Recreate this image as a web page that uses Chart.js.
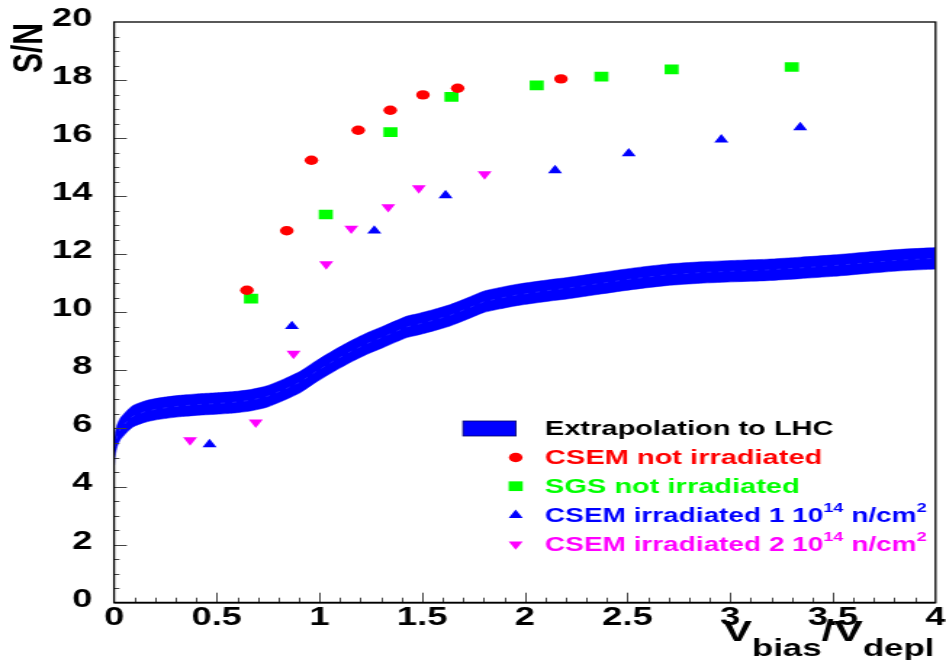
<!DOCTYPE html>
<html><head><meta charset="utf-8">
<script src="https://cdn.jsdelivr.net/npm/chart.js@4/dist/chart.umd.min.js"></script>
<style>
html,body{margin:0;padding:0;background:#fff;overflow:hidden;}
#wrap{width:652px;height:660px;transform:scaleX(1.45092);transform-origin:0 0;}
canvas{display:block;}
</style></head><body>
<div id="wrap"><canvas id="c" width="652" height="660"></canvas></div>
<script>
// ---- data ----
const xTickLabels = ["0","0.5","1","1.5","2","2.5","3","3.5","4"];
const yTickLabels = ["0","2","4","6","8","10","12","14","16","18","20"];

const csemNotIrrX = [0.647,0.841,0.961,1.189,1.345,1.504,1.673,2.176];
const csemNotIrrY = [10.76,12.81,15.24,16.27,16.96,17.49,17.72,18.04];

const sgsNotIrrX = [0.667,1.031,1.346,1.643,2.058,2.373,2.715,3.300];
const sgsNotIrrY = [10.47,13.37,16.21,17.42,17.82,18.12,18.37,18.45];

const csemIrr1X = [0.465,0.866,1.267,1.614,2.147,2.506,2.957,3.341];
const csemIrr1Y = [5.45,9.52,12.81,14.03,14.89,15.47,15.95,16.37];

const csemIrr2X = [0.370,0.690,0.874,1.033,1.155,1.335,1.484,1.804];
const csemIrr2Y = [5.60,6.21,8.58,11.66,12.89,13.63,14.28,14.76];

const bandX = [0,0.005,0.015,0.03,0.06,0.094,0.15,0.2,0.257,0.33,0.419,0.5,0.581,0.663,0.744,0.825,0.906,0.988,1.07,1.15,1.23,1.312,1.426,1.475,1.556,1.637,1.72,1.799,1.881,1.962,2.124,2.206,2.37,2.53,2.69,2.855,3.02,3.18,3.34,3.505,3.67,3.829,4.0];
const bandY = [5.1,5.45,5.75,5.98,6.22,6.43,6.58,6.66,6.72,6.78,6.83,6.86,6.9,6.97,7.1,7.33,7.6,7.98,8.33,8.64,8.92,9.16,9.50,9.58,9.73,9.90,10.13,10.36,10.49,10.6,10.76,10.83,11.0,11.16,11.29,11.37,11.42,11.46,11.53,11.61,11.71,11.80,11.86];
const bandHalfWidth = 0.37;

const legendLabels = [
  [["Extrapolation to LHC","n"]],
  [["CSEM not irradiated","n"]],
  [["SGS not irradiated","n"]],
  [["CSEM irradiated 1 10","n"],["14","s"],[" n/cm","n"],["2","s"]],
  [["CSEM irradiated 2 10","n"],["14","s"],[" n/cm","n"],["2","s"]]
];

// ---- build ----
const pts = (xs, ys) => xs.map((x,i)=>({x, y: ys[i]}));
const FONT = '"Liberation Sans", Arial, Helvetica, sans-serif';

const datasets = [
  {label:'CSEM not irradiated', data: pts(csemNotIrrX, csemNotIrrY), showLine:false,
   pointStyle:'circle', pointRadius:4.7, pointBackgroundColor:'#ff0000', pointBorderWidth:0, borderColor:'#ff0000'},
  {label:'SGS not irradiated', data: pts(sgsNotIrrX, sgsNotIrrY), showLine:false,
   pointStyle:'rect', pointRadius:6.86, pointBackgroundColor:'#00ff00', pointBorderWidth:0, borderColor:'#00ff00'},
  {label:'CSEM irradiated 1', data: pts(csemIrr1X, csemIrr1Y), showLine:false,
   pointStyle:'triangle', pointRadius:5.6, pointBackgroundColor:'#0000ff', pointBorderWidth:0, borderColor:'#0000ff'},
  {label:'CSEM irradiated 2', data: pts(csemIrr2X, csemIrr2Y), showLine:false,
   pointStyle:'triangle', pointRotation:180, pointRadius:5.6, pointBackgroundColor:'#ff00ff', pointBorderWidth:0, borderColor:'#ff00ff'},
  {label:'center', data: pts(bandX, bandY), showLine:true, pointRadius:0, borderWidth:0.8,
   borderColor:'rgba(120,120,255,0.35)', borderDash:[3,5], fill:false},
  {label:'upper', data: bandX.map((x,i)=>({x, y: bandY[i]+bandHalfWidth})), showLine:true, pointRadius:0,
   borderWidth:0.5, borderColor:'#0000ee', backgroundColor:'#0000ff', fill:'+1', tension:0.2},
  {label:'lower', data: bandX.map((x,i)=>({x, y: bandY[i]-bandHalfWidth})), showLine:true, pointRadius:0,
   borderWidth:0.5, borderColor:'#0000ee', fill:false, tension:0.2}
];

function richText(ctx, parts, x, y, color, size, supSize, supRise){
  ctx.fillStyle = color;
  ctx.textBaseline = 'alphabetic';
  ctx.textAlign = 'left';
  let cx = x;
  for (const [t,k] of parts){
    if (k === 's'){ ctx.font = `bold ${supSize}px ${FONT}`; ctx.fillText(t, cx, y - supRise); }
    else { ctx.font = `bold ${size}px ${FONT}`; ctx.fillText(t, cx, y); }
    cx += ctx.measureText(t).width;
  }
}

const decor = {
  id:'decor',
  afterDraw(chart){
    const ctx = chart.ctx, a = chart.chartArea;
    const xs = chart.scales.x, ys = chart.scales.y;
    ctx.save();
    // ticks
    ctx.strokeStyle = '#444'; ctx.lineWidth = 1;
    ctx.beginPath();
    for (let i=1;i<40;i++){
      const v = i/10; const px = Math.round(xs.getPixelForValue(v))+0.5;
      const len = (i%5===0)?10:5;
      ctx.moveTo(px, a.bottom); ctx.lineTo(px, a.bottom-len);
    }
    for (let i=1;i<40;i++){
      const v = i/2; const py = Math.round(ys.getPixelForValue(v))+0.5;
      const len = (i%4===0)?8.8:3.7;
      ctx.moveTo(a.left, py); ctx.lineTo(a.left+len, py);
    }
    ctx.stroke();
    // frame
    ctx.strokeStyle = '#000'; ctx.lineWidth = 1.3;
    ctx.strokeRect(a.left, a.top, a.right-a.left, a.bottom-a.top);
    ctx.lineWidth = 1.8;
    ctx.beginPath(); ctx.moveTo(a.left, a.bottom); ctx.lineTo(a.right, a.bottom); ctx.stroke();

    // legend
    const lx = 375.6, mx = 355.4;
    const baselines = [435, 464, 492.7, 521.7, 550.7];
    const colors = ['#000000','#ff0000','#00ff00','#0000ff','#ff00ff'];
    const sizes = [20, 20, 20, 19.3, 19.3];
    ctx.fillStyle = '#0000ff';
    ctx.fillRect(319.1, 421, 36.5, 15);
    ctx.strokeStyle = '#000066'; ctx.lineWidth = 0.8;
    ctx.strokeRect(319.1, 421, 36.5, 15);
    const my = baselines.map(b=>b-6.5);
    ctx.fillStyle = '#ff0000';
    ctx.beginPath(); ctx.arc(mx, my[1], 4.7, 0, Math.PI*2); ctx.fill();
    ctx.fillStyle = '#00ff00';
    ctx.fillRect(mx-4.85, my[2]-4.85, 9.7, 9.7);
    ctx.fillStyle = '#0000ff';
    let r = 5.6;
    ctx.beginPath(); ctx.moveTo(mx, my[3]-r); ctx.lineTo(mx+0.866*r, my[3]+0.5*r); ctx.lineTo(mx-0.866*r, my[3]+0.5*r); ctx.closePath(); ctx.fill();
    ctx.fillStyle = '#ff00ff';
    ctx.beginPath(); ctx.moveTo(mx, my[4]+r); ctx.lineTo(mx+0.866*r, my[4]-0.5*r); ctx.lineTo(mx-0.866*r, my[4]-0.5*r); ctx.closePath(); ctx.fill();
    for (let i=0;i<legendLabels.length;i++){
      richText(ctx, legendLabels[i], lx, baselines[i], colors[i], sizes[i], 12.5, 10);
    }

    // y title
    ctx.save();
    ctx.translate(29, 23);
    ctx.rotate(-Math.PI/2);
    ctx.fillStyle = '#000'; ctx.font = `bold 30px ${FONT}`;
    ctx.textAlign = 'right'; ctx.textBaseline = 'alphabetic';
    ctx.fillText('S/N', 0, 0);
    ctx.restore();

    // x title: V_bias / V_depl
    const segs = [['V',30,0],['bias',24,15],['/',30,0],['V',30,0],['depl',24,15]];
    let total = 0;
    for (const [t,s] of segs){ ctx.font = `bold ${s}px ${FONT}`; total += ctx.measureText(t).width; }
    let cx = 644 - total;
    ctx.fillStyle = '#000'; ctx.textAlign = 'left'; ctx.textBaseline='alphabetic';
    for (const [t,s,d] of segs){
      ctx.font = `bold ${s}px ${FONT}`;
      ctx.fillText(t, cx, 641 + d);
      cx += ctx.measureText(t).width;
    }
    ctx.restore();
  }
};

new Chart(document.getElementById('c'), {
  type:'scatter',
  data:{datasets},
  options:{
    responsive:false, animation:false, events:[],
    layout:{autoPadding:false, padding:{left:0, top:22, right:7.2, bottom:0}},
    plugins:{legend:{display:false}, tooltip:{enabled:false}},
    scales:{
      x:{type:'linear', min:0, max:4,
         grid:{display:false, drawTicks:false}, border:{display:false},
         ticks:{stepSize:0.5, padding:0, color:'#000', font:{family:FONT, size:25, weight:'bold'},
                maxRotation:0, autoSkip:false, callback:(v,i)=>xTickLabels[i]},
         afterFit:s=>{s.height = 57.3;}},
      y:{type:'linear', min:0, max:20,
         grid:{display:true, drawOnChartArea:false, drawTicks:true, tickLength:15, tickColor:'rgba(0,0,0,0)'},
         border:{display:false},
         ticks:{stepSize:2, padding:0, labelOffset:-3, color:'#000', font:{family:FONT, size:25, weight:'bold'},
                autoSkip:false, callback:(v,i)=>yTickLabels[i]},
         afterFit:s=>{s.width = 78.6;}}
    }
  },
  plugins:[decor]
});
</script>
</body></html>
